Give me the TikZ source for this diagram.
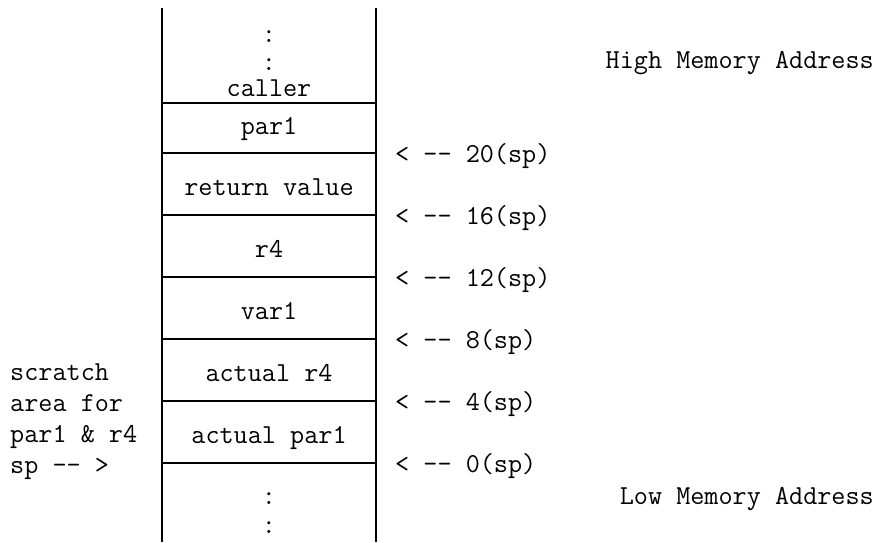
\documentclass[tikz,border=0pt]{standalone}
\begin{document}
\begin{tikzpicture}[x=1pt,y=-1pt,
  txt/.style={inner sep=0pt,anchor=base,font=\ttfamily\fontsize{27.4}{31}\selectfont},
  ltxt/.style={txt,anchor=base west},
  rtxt/.style={txt,anchor=base east},
  frame/.style={line width=1.8pt},
  sep/.style={line width=1.5pt}]
\useasboundingbox (0,0) rectangle (882,542);
% frame
\coordinate (tl) at (162,8);
\coordinate (bl) at (162,542);
\coordinate (tr) at (376,8);
\coordinate (br) at (376,542);
\draw[frame] (tl) -- (bl);
\draw[frame] (tr) -- (br);
% separators
\foreach \y/\n in {103/a,153/b,215/c,277/d,339/e,401/f,463/g}{
  \coordinate (L\n) at (162,\y);
  \coordinate (R\n) at (376,\y);
  \draw[sep] (L\n) -- (R\n);
}
% cell texts
\node[txt] (d1) at (269,42) {:};
\node[txt] (d2) at (269,70) {:};
\node[txt] (caller) at (269,96) {caller};
\node[txt] (par1) at (269,134) {par1};
\node[txt] (ret) at (269,195) {return value};
\node[txt] (r4) at (269,257) {r4};
\node[txt] (var1) at (269,319) {var1};
\node[txt] (ar4) at (269,381) {actual r4};
\node[txt] (apar1) at (269,443) {actual par1};
\node[txt] (d3) at (269,504) {:};
\node[txt] (d4) at (269,533) {:};
% right labels
\node[ltxt] (s20) at (395,162) {< -{}- 20(sp)};
\node[ltxt] (s16) at (395,224) {< -{}- 16(sp)};
\node[ltxt] (s12) at (395,286) {< -{}- 12(sp)};
\node[ltxt] (s8) at (395,348) {< -{}- 8(sp)};
\node[ltxt] (s4) at (395,410) {< -{}- 4(sp)};
\node[ltxt] (s0) at (395,472) {< -{}- 0(sp)};
\node[rtxt] (high) at (874,68) {High Memory Address};
\node[rtxt] (low) at (874,504) {Low Memory Address};
% left labels
\node[ltxt] (l1) at (10,380) {scratch};
\node[ltxt] (l2) at (10,411) {area for};
\node[ltxt] (l3) at (10,442) {par1 \& r4};
\node[ltxt] (l4) at (10,473) {sp -{}- >};
\end{tikzpicture}
\end{document}
